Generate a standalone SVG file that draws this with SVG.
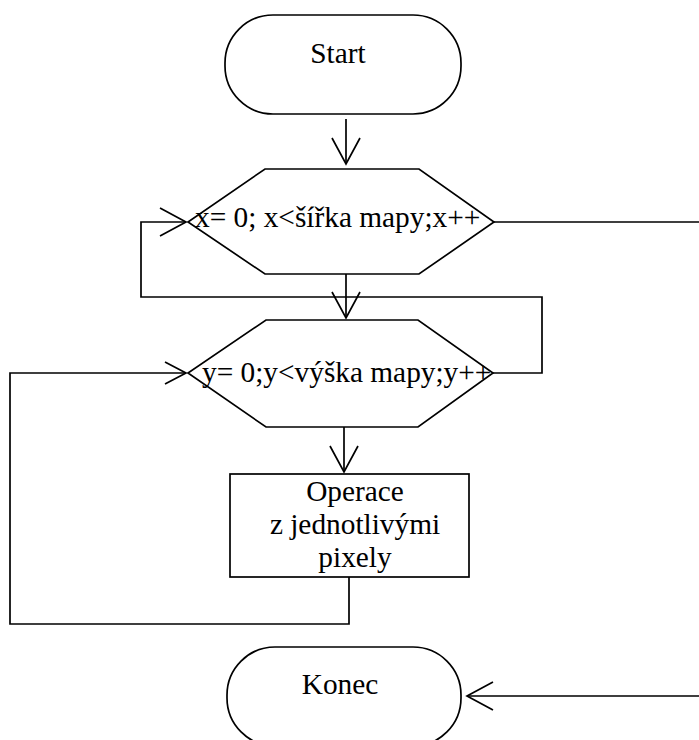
<svg xmlns="http://www.w3.org/2000/svg" width="699" height="740" viewBox="0 0 699 740">
  <style>
    .shape { fill: #ffffff; stroke: #000000; stroke-width: 1.7; }
    .wire { fill: none; stroke: #000000; stroke-width: 1.7; }
    .label { font-family: "Liberation Serif", "Times New Roman", serif; font-size: 29.33px; fill: #000000; }
    .mid { text-anchor: middle; }
  </style>
  <defs>
    <marker id="arrow" markerUnits="userSpaceOnUse" markerWidth="30" markerHeight="32" viewBox="-2 -2 30 32" refX="26" refY="14" orient="auto">
      <path d="M0,0 L26,14 L0,28" fill="none" stroke="#000000" stroke-width="1.7"/>
    </marker>
    <marker id="arrowSmall" markerUnits="userSpaceOnUse" markerWidth="26" markerHeight="26" viewBox="-2 -2 26 26" refX="21" refY="11" orient="auto">
      <path d="M0,0 L21,11 L0,22" fill="none" stroke="#000000" stroke-width="1.7"/>
    </marker>
  </defs>

  <rect width="699" height="740" fill="#ffffff"/>

  <!-- connectors -->
  <g id="connectors">
    <line class="wire" x1="346" y1="119" x2="346" y2="164" marker-end="url(#arrow)"/>
    <line class="wire" x1="346" y1="274" x2="346" y2="318" marker-end="url(#arrow)"/>
    <line class="wire" x1="344" y1="427" x2="344" y2="472" marker-end="url(#arrow)"/>
    <!-- inner loop back to the outer condition -->
    <polyline class="wire" points="493,373 542,373 542,297 141,297 141,222 186,222" marker-end="url(#arrow)"/>
    <!-- body back to the inner condition -->
    <polyline class="wire" points="349,577 349,624 10,624 10,373 186,373" marker-end="url(#arrowSmall)"/>
    <!-- outer loop exit to end -->
    <polyline class="wire" points="494,222 703,222 703,696 467,696" marker-end="url(#arrow)"/>
  </g>

  <g id="start">
    <rect class="shape" x="225" y="15" width="236" height="99" rx="48" ry="48"/>
    <text class="label mid" x="338" y="63">Start</text>
  </g>

  <g id="loop-x">
    <polygon class="shape" points="265,169 419,169 494,222 419,274 265,274 188,222"/>
    <text class="label" x="195" y="227">x= 0; x&lt;šířka mapy;x++</text>
  </g>

  <g id="loop-y">
    <polygon class="shape" points="266,320 418,320 493,373 418,427 266,427 188,373"/>
    <text class="label" x="202" y="382">y= 0;y&lt;výška mapy;y++</text>
  </g>

  <g id="operation">
    <rect class="shape" x="230" y="474" width="239" height="103"/>
    <text class="label mid" x="355" y="501">Operace</text>
    <text class="label mid" x="355" y="534">z jednotlivými</text>
    <text class="label mid" x="355" y="567">pixely</text>
  </g>

  <g id="end">
    <rect class="shape" x="227" y="647" width="234" height="99" rx="48" ry="48"/>
    <text class="label mid" x="340" y="694">Konec</text>
  </g>
</svg>
